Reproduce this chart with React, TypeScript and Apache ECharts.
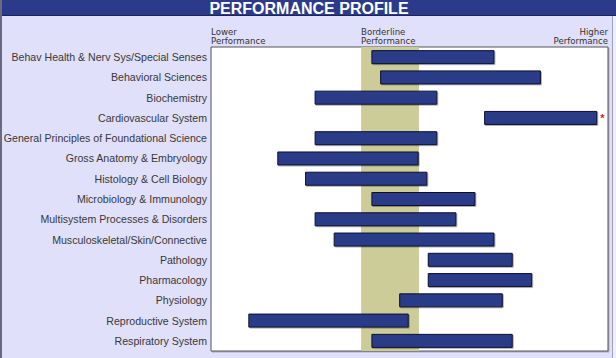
import React, { useEffect, useRef } from 'react';
import * as echarts from 'echarts';

const categories = [
  'Behav Health & Nerv Sys/Special Senses',
  'Behavioral Sciences',
  'Biochemistry',
  'Cardiovascular System',
  'General Principles of Foundational Science',
  'Gross Anatomy & Embryology',
  'Histology & Cell Biology',
  'Microbiology & Immunology',
  'Multisystem Processes & Disorders',
  'Musculoskeletal/Skin/Connective',
  'Pathology',
  'Pharmacology',
  'Physiology',
  'Reproductive System',
  'Respiratory System',
];
const lows = [40.4, 42.6, 26.1, 68.8, 26.1, 16.7, 23.7, 40.4, 26.1, 30.9, 54.6, 54.6, 47.4, 9.4, 40.4];
const highs = [71.4, 83.1, 57.0, 97.3, 57.0, 52.3, 54.5, 66.6, 61.8, 71.4, 76.0, 80.9, 73.5, 49.8, 76.0];
const flagged = ['Cardiovascular System'];
const borderline = [37.8, 52.4];
const headerTexts = ['Lower\nPerformance', 'Borderline\nPerformance', 'Higher\nPerformance'];
const titleText = 'PERFORMANCE PROFILE';

export default function App() {
  const ref = useRef<HTMLDivElement>(null);
  useEffect(() => {
    const chart = echarts.init(ref.current!, null, { renderer: 'svg' });
    const W = 616, H = 358;
    const gl = 211, gt = 47, gw = 397, gh = 304;
    const bandX = gl + (borderline[0] / 100) * gw;
    const headFont = { fontFamily: 'DejaVu Sans', fontSize: 8.6, fill: '#333', lineHeight: 9.5 };
    chart.setOption({
      animation: false,
      backgroundColor: '#e0e0fa',
      graphic: [
        { type: 'rect', shape: { x: 0, y: 0, width: W, height: 16 }, style: { fill: '#2b3b8a' }, z: -1 },
        { type: 'rect', shape: { x: 0, y: 15, width: W, height: 1 }, style: { fill: '#1a2560' }, z: -1 },
        { type: 'rect', shape: { x: 0, y: 0, width: 2, height: H }, style: { fill: '#6a6a80' }, z: 10 },
        { type: 'rect', shape: { x: 613, y: 16, width: 3, height: H }, style: { fill: '#eeeefe' }, z: -1 },
        { type: 'rect', shape: { x: 612, y: 16, width: 1, height: H }, style: { fill: '#a0a0b8' }, z: -1 },
        {
          type: 'text', x: 309, y: 8,
          style: { text: titleText, fill: '#ffffff', fontFamily: 'Liberation Sans', fontWeight: 'bold', fontSize: 16, align: 'center', verticalAlign: 'middle' },
        },
        { type: 'text', x: gl, y: 27, style: { ...headFont, text: headerTexts[0], align: 'left', verticalAlign: 'top' } },
        { type: 'text', x: bandX, y: 27, style: { ...headFont, text: headerTexts[1], align: 'left', verticalAlign: 'top' } },
        { type: 'text', x: gl + gw, y: 27, style: { ...headFont, text: headerTexts[2], align: 'right', verticalAlign: 'top' } },
      ],
      grid: {
        left: gl, top: gt, width: gw, height: gh,
        show: true, backgroundColor: '#ffffff', borderColor: '#555', borderWidth: 1,
        shadowColor: 'rgba(0,0,0,0.25)', shadowOffsetX: 1, shadowOffsetY: 1, shadowBlur: 0,
      },
      xAxis: {
        type: 'value', min: 0, max: 100,
        axisLine: { show: false }, axisTick: { show: false }, axisLabel: { show: false }, splitLine: { show: false },
      },
      yAxis: {
        type: 'category', data: categories, inverse: true,
        axisLine: { show: false }, axisTick: { show: false }, splitLine: { show: false },
        axisLabel: { color: '#383838', fontFamily: 'Liberation Sans', fontSize: 10.6, margin: 4 },
      },
      series: [
        {
          type: 'bar', stack: 'r', data: lows, barWidth: 14, silent: true,
          itemStyle: { color: 'transparent' },
          markArea: {
            silent: true,
            itemStyle: { color: '#cccc99', opacity: 1 },
            data: [[{ xAxis: borderline[0] }, { xAxis: borderline[1] }]],
          },
        },
        {
          type: 'bar', stack: 'r', barWidth: 14, silent: true,
          data: categories.map((c, i) => ({
            value: +(highs[i] - lows[i]).toFixed(2),
            label: flagged.includes(c)
              ? { show: true, position: 'right', formatter: '*', color: '#dd2222', fontSize: 11, fontWeight: 'bold', distance: 3 }
              : { show: false },
          })),
          itemStyle: {
            color: '#2b3b88', borderColor: '#0d1133', borderWidth: 1,
            shadowColor: 'rgba(0,0,0,0.3)', shadowOffsetX: 1, shadowOffsetY: 1, shadowBlur: 0,
          },
        },
      ],
    });
    return () => chart.dispose();
  }, []);
  return <div ref={ref} style={{ position: 'absolute', left: 0, top: 0, width: 616, height: 358 }} />;
}
